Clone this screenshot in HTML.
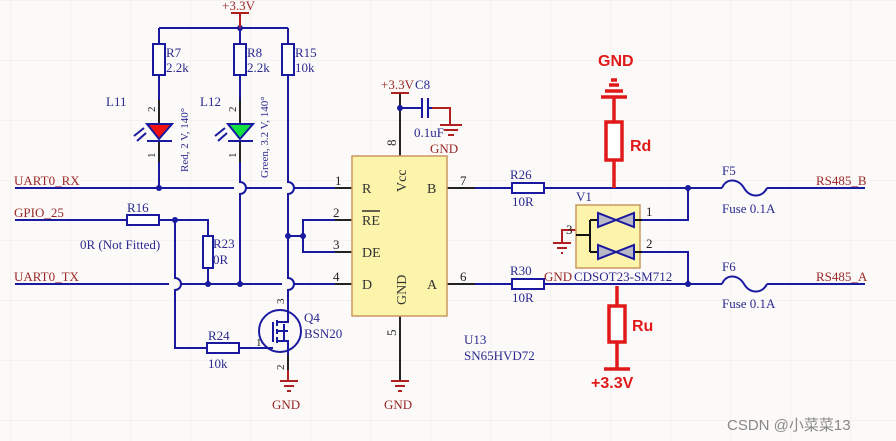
<!DOCTYPE html>
<html><head><meta charset="utf-8"><style>
html,body{margin:0;padding:0;background:#fbfaf8;}
svg{display:block}
text{font-family:"Liberation Serif",serif;}
</style></head><body>
<svg width="896" height="441" viewBox="0 0 896 441" xmlns="http://www.w3.org/2000/svg">
<defs>
<pattern id="g" width="60" height="60" patternUnits="userSpaceOnUse" x="10" y="0">
<path d="M60 0H0V60" fill="none" stroke="#ece9e4" stroke-width="1"/>
</pattern>
</defs>
<rect width="896" height="441" fill="#fbfaf8"/>
<rect width="896" height="441" fill="url(#g)"/>

<g fill="none" stroke="#1a1aa0" stroke-width="2">
<path d="M159 28H288"/>
<path d="M159 28V44M159 75V124"/>
<path d="M240 28V44M240 75V124"/>
<path d="M288 28V44M288 75V182 a6 6 0 0 1 0 12 V278 a6 6 0 0 1 0 12 V310"/>
<path d="M159 141V188M240 141V182 a6 6 0 0 1 0 12 V284"/>
<path d="M15 188H234 M246 188H282 M294 188H335"/>
<path d="M15 220H127 M159 220H208V236 M208 268V284"/>
<path d="M15 284H169 M181 284H282 M294 284H335"/>
<path d="M175 220V278 a6 6 0 0 1 0 12 V348H207 M239 348H262"/>
<path d="M288 236H303V220H335 M303 236V252H335"/>
<path d="M470 188H512 M544 188H722 M767 188H865"/>
<path d="M470 284H512 M544 284H722 M767 284H865"/>
<path d="M688 188V220H642 M688 284V252H642"/>
<path d="M722 188 c4 -10 16 -10 22 0 c6 10 18 10 23 0"/>
<path d="M722 284 c4 -10 16 -10 22 0 c6 10 18 10 23 0"/>
</g>
<g stroke="#222" stroke-width="2" fill="none">
<path d="M335 188H352 M335 220H352 M335 252H352 M335 284H352"/>
<path d="M447 188H475 M447 284H475"/>
<path d="M400 93V156 M400 316V381"/>
<path d="M159 124V100 M240 124V100 M159 141V162 M240 141V162"/>
</g>
<g fill="#fff" stroke="#1a1aa0" stroke-width="2">
<rect x="153" y="44" width="12" height="31"/>
<rect x="234" y="44" width="12" height="31"/>
<rect x="282" y="44" width="12" height="31"/>
<rect x="127" y="215" width="32" height="10"/>
<rect x="203" y="236" width="10" height="32"/>
<rect x="207" y="343" width="32" height="10"/>
<rect x="512" y="183" width="32" height="10"/>
<rect x="512" y="279" width="32" height="10"/>
</g>
<g fill="#1a1aa0">
<circle cx="240" cy="28" r="3"/><circle cx="159" cy="188" r="3"/>
<circle cx="175" cy="220" r="3"/><circle cx="208" cy="284" r="3"/><circle cx="240" cy="284" r="3"/>
<circle cx="288" cy="236" r="3"/><circle cx="303" cy="236" r="3"/>
<circle cx="400" cy="108" r="3"/><circle cx="688" cy="188" r="3"/><circle cx="688" cy="284" r="3"/>
</g>
<path d="M147 124H172L159 139Z" fill="#f01010" stroke="#1a1aa0" stroke-width="2"/>
<path d="M147 141H172" stroke="#1a1aa0" stroke-width="2"/>
<path d="M228 124H253L240 139Z" fill="#10e040" stroke="#1a1aa0" stroke-width="2"/>
<path d="M228 141H253" stroke="#1a1aa0" stroke-width="2"/>
<g stroke="#1a1aa0" stroke-width="2"><path d="M144 128L134 136M146 133L137 141M225 128L215 136M227 133L218 141"/></g>
<rect x="352" y="156" width="95" height="160" fill="#fcf4ab" stroke="#c99860" stroke-width="1.5"/>
<g stroke="#b02020" stroke-width="2" fill="none">
<path d="M231 13H249 M240 13V28"/>
<path d="M391 93H409"/>
<path d="M280 381H298 M284 386H294 M287 391H291 M288 370V381"/>
<path d="M391 381H409 M395 386H405 M398 391H402"/>
<path d="M432 108H450V125 M440 125H462 M444 130H458 M448 135H454"/>
<path d="M576 230H562V243 M553 243H571 M557 248H567 M561 253H563"/>
</g>
<g stroke="#1a1aa0" stroke-width="2"><path d="M400 108H422 M422 98V118 M428 98V118 M428 108H432"/></g>
<g stroke="#1a1aa0" fill="none" stroke-width="2">
<circle cx="280" cy="331" r="21"/>
<path d="M262 348H273 M273 322V342 M277 320V326 M277 329V334 M277 337V343 M277 322H288V310 M277 341H288V355 M277 331H288 M284 324V340"/>
</g>
<path d="M288 355V370" stroke="#222" stroke-width="2"/>
<rect x="576" y="205" width="64" height="63" fill="#fcf4ab" stroke="#c99860" stroke-width="1.5"/>
<g stroke="#111" stroke-width="2" fill="none"><path d="M576 235H590 M590 220V252 M590 220H598 M590 252H598 M634 220H642 M634 252H642"/></g>
<g fill="#b8b8c8" stroke="#1a1aa0" stroke-width="2">
<path d="M598 213V227L616 220Z M634 213V227L616 220Z"/>
<path d="M598 245V259L616 252Z M634 245V259L616 252Z"/>
</g>
<g stroke="#e01a1a" stroke-width="3.5" fill="none">
<path d="M614 97V122 M614 160V188 M601 97H627 M605 91H623 M609 85H619 M611 80H617"/>
<rect x="606" y="122" width="16" height="38" fill="#fff"/>
<path d="M617 286V306 M617 342V369 M604 369H630"/>
<rect x="609" y="306" width="16" height="36" fill="#fff"/>
</g>
<g font-size="13" fill="#9a2828">
<text x="14" y="185">UART0_RX</text>
<text x="14" y="217">GPIO_25</text>
<text x="14" y="281">UART0_TX</text>
<text x="222" y="10">+3.3V</text>
<text x="381" y="89">+3.3V</text>
<text x="430" y="153">GND</text>
<text x="272" y="409">GND</text>
<text x="384" y="409">GND</text>
<text x="544" y="281">GND</text>
<text x="816" y="185">RS485_B</text>
<text x="816" y="281">RS485_A</text>
</g>
<g font-size="13" fill="#2a2a90">
<text x="166" y="57">R7</text><text x="166" y="72">2.2k</text>
<text x="247" y="57">R8</text><text x="247" y="72">2.2k</text>
<text x="295" y="57">R15</text><text x="295" y="72">10k</text>
<text x="106" y="106">L11</text><text x="200" y="106">L12</text>
<text x="127" y="212">R16</text>
<text x="80" y="249">0R (Not Fitted)</text>
<text x="213" y="248">R23</text><text x="213" y="264">0R</text>
<text x="208" y="340">R24</text><text x="208" y="368">10k</text>
<text x="304" y="322">Q4</text><text x="304" y="338">BSN20</text>
<text x="415" y="89">C8</text>
<text x="414" y="137">0.1uF</text>
<text x="510" y="179">R26</text><text x="512" y="206">10R</text>
<text x="510" y="275">R30</text><text x="512" y="302">10R</text>
<text x="576" y="201">V1</text>
<text x="574" y="281">CDSOT23-SM712</text>
<text x="722" y="175">F5</text><text x="722" y="213">Fuse 0.1A</text>
<text x="722" y="271">F6</text><text x="722" y="308">Fuse 0.1A</text>
<text x="464" y="344">U13</text><text x="464" y="360">SN65HVD72</text>
<text x="188" y="172" font-size="11" transform="rotate(-90 188 172)">Red, 2 V, 140°</text>
<text x="268" y="178" font-size="11" transform="rotate(-90 268 178)">Green, 3.2 V, 140°</text>
</g>
<g font-size="13" fill="#222">
<text x="335" y="185">1</text><text x="333" y="217">2</text><text x="333" y="249">3</text><text x="333" y="281">4</text>
<text x="460" y="185">7</text><text x="460" y="281">6</text>
<text x="646" y="216">1</text><text x="646" y="248">2</text><text x="566" y="234">3</text>
<text x="155" y="112" font-size="11" transform="rotate(-90 155 112)">2</text>
<text x="155" y="158" font-size="11" transform="rotate(-90 155 158)">1</text>
<text x="236" y="112" font-size="11" transform="rotate(-90 236 112)">2</text>
<text x="236" y="158" font-size="11" transform="rotate(-90 236 158)">1</text>
<text x="396" y="146" transform="rotate(-90 396 146)">8</text>
<text x="396" y="336" transform="rotate(-90 396 336)">5</text>
<text x="284" y="304" font-size="11" transform="rotate(-90 284 304)">3</text>
<text x="284" y="370" font-size="11" transform="rotate(-90 284 370)">2</text>
<text x="256" y="346" font-size="11">1</text>
</g>
<g font-size="14" fill="#333">
<text x="362" y="193">R</text>
<text x="362" y="225">RE</text><path d="M362 211H380" stroke="#333" stroke-width="1.5"/>
<text x="362" y="257">DE</text>
<text x="362" y="289">D</text>
<text x="427" y="193">B</text>
<text x="427" y="289">A</text>
<text x="406" y="192" transform="rotate(-90 406 192)">Vcc</text>
<text x="406" y="305" transform="rotate(-90 406 305)">GND</text>
</g>
<g style="font-family:'Liberation Sans',sans-serif;font-weight:bold" fill="#e01a1a" font-size="16">
<text x="598" y="66" style="font-family:'Liberation Sans',sans-serif">GND</text>
<text x="630" y="151" style="font-family:'Liberation Sans',sans-serif">Rd</text>
<text x="632" y="331" style="font-family:'Liberation Sans',sans-serif">Ru</text>
<text x="591" y="388" style="font-family:'Liberation Sans',sans-serif">+3.3V</text>
</g>
<text x="727" y="430" style="font-family:'Liberation Sans','Noto Sans CJK SC',sans-serif" font-size="15" fill="#888">CSDN @小菜菜13</text>
</svg>
</body></html>
